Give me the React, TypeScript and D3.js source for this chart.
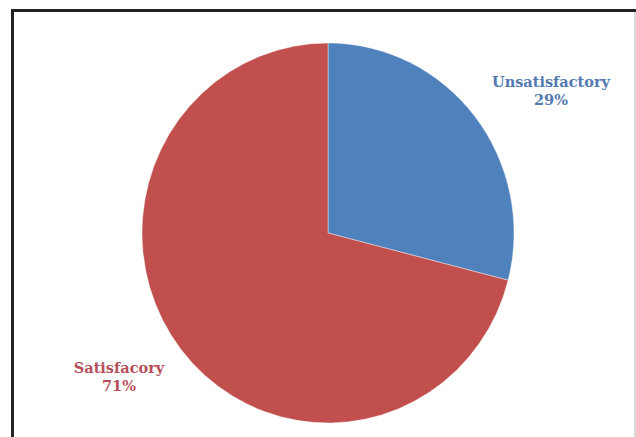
import React from "react";
import * as d3 from "d3";

const categories = ["Unsatisfactory", "Satisfacory"];
const values = [29, 71];
const colors = ["#4F81BD", "#C0504D"];
const labelColors = ["#5479B0", "#B5505A"];

export default function App() {
  const W = 636, H = 437;
  const cx = 328, cy = 233, rx = 186, ry = 190;
  const pie = d3.pie<number>().sort(null).value((d) => d);
  const arcs = pie(values);
  const arc = d3.arc<d3.PieArcDatum<number>>().innerRadius(0).outerRadius(rx);
  const labelPos = [
    { x: 551, y: 87 },
    { x: 119, y: 373 },
  ];
  return (
    <svg width={W} height={H} style={{ position: "absolute", left: 0, top: 0, background: "#fff" }}>
      <defs>
        <filter id="soft" x="-10%" y="-10%" width="120%" height="120%">
          <feGaussianBlur stdDeviation="0.6" />
        </filter>
      </defs>
      <g transform={`translate(${cx},${cy}) scale(1,${ry / rx})`} filter="url(#soft)">
        {arcs.map((a, i) => (
          <path key={i} d={arc(a) || ""} fill={colors[i]} stroke="#fff" strokeWidth={0.4} />
        ))}
      </g>
      {categories.map((c, i) => (
        <text
          key={c}
          x={labelPos[i].x}
          y={labelPos[i].y}
          textAnchor="middle"
          fontFamily="DejaVu Serif, serif"
          fontWeight="bold"
          fontSize={14.5}
          fill={labelColors[i]}
        >
          <tspan x={labelPos[i].x}>{c}</tspan>
          <tspan x={labelPos[i].x} dy={18}>{`${values[i]}%`}</tspan>
        </text>
      ))}
      <line x1={11} y1={10.5} x2={636} y2={10.5} stroke="#222" strokeWidth={3} />
      <line x1={12.5} y1={9} x2={12.5} y2={437} stroke="#222" strokeWidth={3} />
      <line x1={635} y1={12} x2={635} y2={437} stroke="#ccc" strokeWidth={1.5} />
    </svg>
  );
}
